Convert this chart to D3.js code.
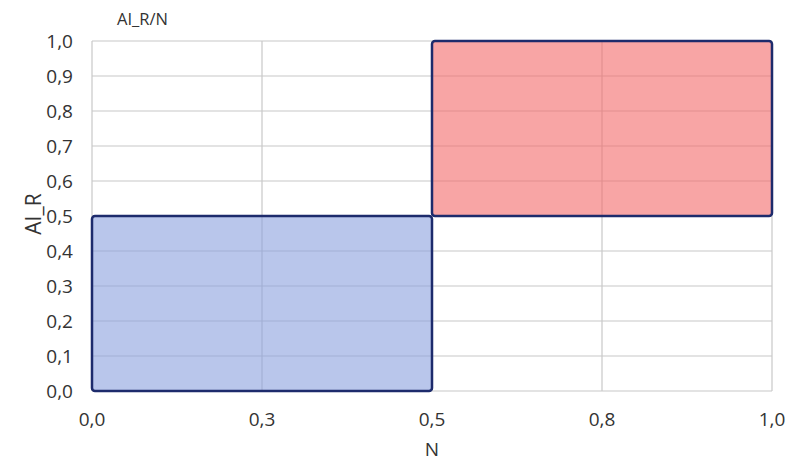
<!DOCTYPE html>
<html><head><meta charset="utf-8">
<script src="https://cdn.jsdelivr.net/npm/d3@7"></script>
<style>body{margin:0;background:#fff}svg{display:block}text{font-family:"Open Sans",sans-serif;fill:#333}</style>
</head><body><svg id="c" width="790" height="463"></svg>
<script>
const xTicks = [0, 0.25, 0.5, 0.75, 1.0];
const yTicks = [0, 0.1, 0.2, 0.3, 0.4, 0.5, 0.6, 0.7, 0.8, 0.9, 1.0];
const regionNames = ["low", "high"];
const regionX0 = [0, 0.5];
const regionX1 = [0.5, 1.0];
const regionY0 = [0, 0.5];
const regionY1 = [0.5, 1.0];
const regionColors = ["#8aa0de", "#f36969"];
const title = "AI_R/N", xLabel = "N", yLabel = "AI_R";

const svg = d3.select("#c");
const m = {l: 92, r: 18, t: 41, b: 72};
const W = 790, H = 463;
const x = d3.scaleLinear().domain([0, 1]).range([m.l, W - m.r]);
const y = d3.scaleLinear().domain([0, 1]).range([H - m.b, m.t]);
const fmt = v => d3.format(".1f")(v).replace(".", ",");

// grid
const g = svg.append("g");
g.selectAll("line.h").data(yTicks).enter().append("line")
  .attr("x1", x(0)).attr("x2", x(1)).attr("y1", d => y(d)).attr("y2", d => y(d))
  .attr("stroke", "#c8c8c8").attr("stroke-width", 1.2);
g.selectAll("line.v").data(xTicks).enter().append("line")
  .attr("y1", y(0)).attr("y2", y(1)).attr("x1", d => x(d)).attr("x2", d => x(d))
  .attr("stroke", "#c8c8c8").attr("stroke-width", 1.2);

// regions
const regions = regionNames.map((n, i) => ({n, x0: regionX0[i], x1: regionX1[i], y0: regionY0[i], y1: regionY1[i], c: regionColors[i]}));
svg.selectAll("rect.reg").data(regions).enter().append("rect")
  .attr("x", d => x(d.x0)).attr("y", d => y(d.y1))
  .attr("width", d => x(d.x1) - x(d.x0)).attr("height", d => y(d.y0) - y(d.y1))
  .attr("rx", 3)
  .attr("fill", d => d.c).attr("fill-opacity", 0.6)
  .attr("stroke", "#1d2b6c").attr("stroke-width", 2.5);

// y axis labels
svg.selectAll("text.yt").data(yTicks).enter().append("text")
  .attr("x", 73).attr("y", d => y(d)).attr("dy", "0.35em")
  .attr("text-anchor", "end").attr("font-size", 19).text(fmt);
// x axis labels
svg.selectAll("text.xt").data(xTicks).enter().append("text")
  .attr("x", d => x(d)).attr("y", 426)
  .attr("text-anchor", "middle").attr("font-size", 19).text(fmt);

svg.append("text").attr("x", x(0.5)).attr("y", 456).attr("text-anchor", "middle")
  .attr("font-size", 19).text(xLabel);
svg.append("text").attr("transform", `translate(41,${y(0.5) - 2}) rotate(-90)`)
  .attr("text-anchor", "middle").attr("font-size", 21).text(yLabel);
svg.append("text").attr("x", 117).attr("y", 25).attr("font-size", 16.5).text(title);
</script></body></html>
